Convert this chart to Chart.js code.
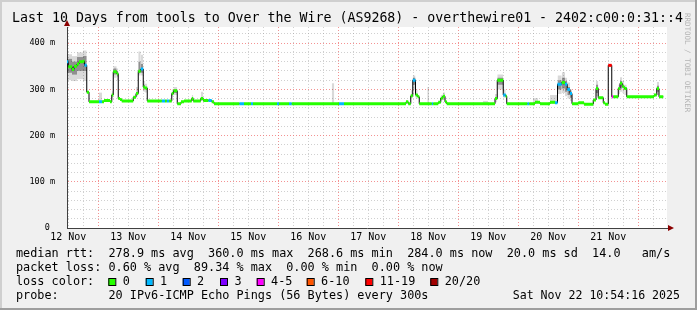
<!DOCTYPE html>
<html><head><meta charset="utf-8">
<script src="https://cdn.jsdelivr.net/npm/chart.js@4/dist/chart.umd.min.js"></script>
<style>html,body{margin:0;padding:0;background:#f0f0f0;}canvas{display:block;}</style>
</head><body>
<canvas id="c" width="697" height="310"></canvas>
<script>
// ---------------- data ----------------
const titleText = 'Last 10 Days from tools to Over the Wire (AS9268) - overthewire01 - 2402:c00:0:31::4';
const dayLabels = ['12 Nov','13 Nov','14 Nov','15 Nov','16 Nov','17 Nov','18 Nov','19 Nov','20 Nov','21 Nov'];
const yGridValues = [0,20,40,60,80,100,120,140,160,180,200,220,240,260,280,300,320,340,360,380,400,420];
const xGridHours = [0.53,6.53,12.53,18.53,24.53,30.53,36.53,42.53,48.53,54.53,60.53,66.53,72.53,78.53,84.53,90.53,96.53,102.53,108.53,114.53,120.53,126.53,132.53,138.53,144.53,150.53,156.53,162.53,168.53,174.53,180.53,186.53,192.53,198.53,204.53,210.53,216.53,222.53,228.53,234.53];

// median rtt (ms) steps: start hour, value, loss bucket index
const medianHours = [0.0,0.5,2.0,2.8,4.0,4.8,6.4,7.0,7.9,8.8,12.8,14.0,14.8,17.2,17.9,18.5,19.9,20.5,21.2,21.9,26.5,27.6,28.5,29.5,30.5,31.2,32.1,37.9,39.2,39.9,40.9,41.9,42.6,44.1,45.6,46.8,49.9,50.5,53.5,54.5,56.5,57.9,58.8,68.9,70.8,73.6,74.4,84.0,84.8,88.8,89.9,108.8,110.8,135.6,136.5,137.5,138.3,139.4,140.3,140.9,145.9,146.5,148.5,149.5,150.3,151.2,151.9,171.2,172.1,174.5,175.5,175.9,184.1,184.9,187.2,189.2,193.2,195.2,196.2,197.9,199.2,200.1,201.2,202.0,204.5,206.8,210.5,211.6,212.5,214.5,215.2,216.5,217.9,218.5,220.5,221.2,222.1,222.9,223.9,234.8,235.9,236.8];
const medianValues = [360,349,343,350,355,360,361,352,294,273,273,273,276,273,288,338,334,280,278,275,283,291,339,344,305,303,275,275,275,275,275,291,297,269,273,275,280,275,280,276,276,273,269,269,269,269,269,269,269,269,269,269,269,273,269,286,320,288,284,269,269,269,272,281,285,273,269,280,320,288,285,269,269,269,272,269,272,271,311,315,311,300,291,269,271,268,277,302,282,271,268,352,284,284,302,313,306,302,284,288,302,284];
const medianLoss = [1,0,0,0,0,0,0,1,0,0,1,0,0,0,0,0,0,0,0,0,0,0,0,1,0,0,0,1,0,1,0,0,0,0,0,0,0,0,0,0,1,0,0,1,0,1,0,1,0,1,0,1,0,0,0,0,1,0,0,0,1,0,0,0,0,0,0,0,0,1,0,0,1,0,0,0,0,1,1,0,1,1,1,0,0,0,0,0,0,0,0,6,4,0,0,0,0,0,0,0,0,0];
const endHour = 238.5;

// smoke (spread of the 20 pings) per step
const smokeStart = [0.0,2.0,4.0,6.4,12.8,17.9,18.5,19.9,27.6,28.5,29.5,30.5,31.2,41.9,42.6,49.9,53.5,105.9,137.5,138.3,139.4,144.1,149.5,150.3,166.4,171.2,172.1,174.5,186.4,193.2,196.2,197.9,199.2,200.1,201.2,211.6,220.5,221.2,222.1,222.9,235.9];
const smokeEnd   = [2.0,4.0,6.4,7.9,14.0,18.5,19.9,20.5,28.5,29.5,30.5,31.2,32.1,42.6,44.1,50.5,54.5,106.9,138.3,139.4,140.3,144.8,150.3,151.2,168.4,172.1,174.5,175.5,188.4,196.2,197.9,199.2,200.1,201.2,202.0,212.5,221.2,222.1,222.9,223.9,236.8];
const smokeLo    = [320,318,322,318,273,280,325,320,285,330,330,295,293,285,288,275,276,269,280,300,280,269,276,278,269,272,300,282,269,269,290,292,285,280,275,285,290,295,292,288,288];
const smokeHi    = [376,372,380,384,293,296,350,345,305,382,375,318,312,300,305,288,295,313,298,330,300,305,288,293,275,290,332,300,281,288,330,337,325,315,300,318,310,326,318,310,316];
const coreLo     = [336,332,340,340,null,null,332,328,null,335,336,300,null,null,292,null,null,null,null,310,null,null,null,null,null,null,310,null,null,null,300,302,295,288,282,292,null,302,null,null,295];
const coreHi     = [366,360,370,372,null,null,345,340,null,360,355,310,null,null,300,null,null,null,null,325,null,null,null,null,null,null,325,null,null,null,320,325,318,305,295,310,null,318,null,null,308];

const lossLabels = ['0','1','2','3','4-5','6-10','11-19','20/20'];
const lossColors = ['#26ff00','#00b8ff','#0059ff','#7e00ff','#ff00ff','#ff5500','#ff0000','#a10000'];

const rttStats  = ['278.9 ms avg','360.0 ms max','268.6 ms min','284.0 ms now','20.0 ms sd','14.0   am/s'];
const lossStats = ['0.60 % avg','89.34 % max','0.00 % min','0.00 % now'];
const probeText = '20 IPv6-ICMP Echo Pings (56 Bytes) every 300s';
const stampText = 'Sat Nov 22 10:54:16 2025';

// ---------------- build datasets ----------------
function rectPieces(starts, ends, vals) {
  const out = [];
  for (let i = 0; i < starts.length; i++) {
    if (vals[i] === null) continue;
    out.push({x: starts[i], y: vals[i]}, {x: ends[i], y: vals[i]}, {x: ends[i], y: null});
  }
  return out;
}
const medianEnds = medianHours.map((h, i) => i + 1 < medianHours.length ? medianHours[i + 1] : endHour);
const medianLine = medianHours.map((h, i) => ({x: h, y: medianValues[i]}));
medianLine.push({x: endHour, y: medianValues[medianValues.length - 1]});

const datasets = [
  {data: rectPieces(smokeStart, smokeEnd, smokeLo), borderWidth: 0, fill: false, order: 20},
  {data: rectPieces(smokeStart, smokeEnd, smokeHi), borderWidth: 0, fill: '-1', backgroundColor: 'rgba(0,0,0,0.15)', order: 19},
  {data: rectPieces(smokeStart, smokeEnd, coreLo), borderWidth: 0, fill: false, order: 18},
  {data: rectPieces(smokeStart, smokeEnd, coreHi), borderWidth: 0, fill: '-1', backgroundColor: 'rgba(0,0,0,0.34)', order: 17},
  {data: medianLine, stepped: true, borderColor: '#000', borderWidth: 1, fill: false, order: 5}
];
lossLabels.forEach((lab, L) => {
  const vals = medianValues.map((v, i) => medianLoss[i] === L ? v : null);
  if (vals.every(v => v === null)) return;
  datasets.push({data: rectPieces(medianHours, medianEnds, vals), borderColor: lossColors[L], borderWidth: 3,
    borderCapStyle: 'butt', fill: false, order: 0});
});
datasets.forEach(d => { d.pointRadius = 0; d.spanGaps = false; d.tension = 0; });

// ---------------- decorations ----------------
const MONO = '"DejaVu Sans Mono"';
const CHAR_W = 7.12;   // legend character pitch
function fitFont(ctx, text, base, target) {
  ctx.font = base + 'px ' + MONO;
  const w = ctx.measureText(text).width;
  ctx.font = (base * target / w).toFixed(3) + 'px ' + MONO;
}
function monoRow(ctx, text, x, y, pitch) {
  fitFont(ctx, text, 11.8, text.length * (pitch || CHAR_W));
  ctx.fillText(text, x, y);
}
const chrome = {
  id: 'chrome',
  beforeDraw(chart) {
    const {ctx, chartArea: a, width, height} = chart;
    ctx.save();
    ctx.fillStyle = '#f0f0f0'; ctx.fillRect(0, 0, width, height);
    ctx.fillStyle = '#cfcfcf'; ctx.fillRect(0, 0, width, 2); ctx.fillRect(0, 0, 2, height);
    ctx.fillStyle = '#9e9e9e'; ctx.fillRect(0, height - 2, width, 2); ctx.fillRect(width - 2, 0, 2, height);
    ctx.fillStyle = '#ffffff'; ctx.fillRect(a.left, a.top, a.right - a.left, a.bottom - a.top);
    ctx.restore();
  },
  afterDraw(chart) {
    const {ctx, chartArea: a} = chart;
    ctx.save();
    // arrows
    ctx.fillStyle = '#8b0000';
    ctx.beginPath(); ctx.moveTo(a.left - 3, a.top - 1); ctx.lineTo(a.left + 3, a.top - 1); ctx.lineTo(a.left, a.top - 7); ctx.closePath(); ctx.fill();
    ctx.beginPath(); ctx.moveTo(a.right + 1, a.bottom - 3); ctx.lineTo(a.right + 1, a.bottom + 3); ctx.lineTo(a.right + 7, a.bottom); ctx.closePath(); ctx.fill();
    // title
    ctx.fillStyle = '#000';
    ctx.textBaseline = 'middle';
    ctx.textAlign = 'left';
    fitFont(ctx, titleText, 13.75, 671.5);
    ctx.fillText(titleText, 12, 19);
    // legend rows
    monoRow(ctx, 'median rtt:  ' + rttStats.join('  '), 16, 254);
    monoRow(ctx, 'packet loss: ' + lossStats.join('  '), 16, 268);
    monoRow(ctx, 'loss color:', 16, 282);
    const boxX = [108.3, 145.7, 182.7, 220, 256.7, 306.7, 365.3, 430.3];
    lossLabels.forEach((t, i) => {
      ctx.fillStyle = lossColors[i];
      ctx.fillRect(boxX[i], 278.5, 7, 7);
      ctx.strokeStyle = '#000'; ctx.lineWidth = 1;
      ctx.strokeRect(boxX[i] + 0.5, 278.5, 7, 7);
      ctx.fillStyle = '#000';
      monoRow(ctx, t, boxX[i] + 14.4, 282);
    });
    monoRow(ctx, 'probe:       ' + probeText, 16, 296);
    ctx.textAlign = 'right';
    monoRow(ctx, stampText, 680, 296, 6.97);
    // watermark
    ctx.translate(687, 13);
    ctx.rotate(Math.PI / 2);
    ctx.textAlign = 'left';
    ctx.font = '7.5px ' + MONO;
    ctx.fillStyle = '#b4b4b4';
    ctx.fillText('RRDTOOL / TOBI OETIKER', 0, 0);
    ctx.restore();
  }
};

new Chart(document.getElementById('c'), {
  type: 'line',
  data: {datasets},
  plugins: [chrome],
  options: {
    responsive: false, animation: false, devicePixelRatio: 1,
    layout: {padding: {left: 0, right: 30, top: 27, bottom: 62}},
    plugins: {legend: {display: false}, tooltip: {enabled: false}, title: {display: false}},
    scales: {
      x: {
        type: 'linear', min: 0, max: 240,
        afterFit: s => { s.height = 20; },
        afterBuildTicks: s => { s.ticks = xGridHours.map(v => ({value: v})); },
        ticks: {autoSkip: false, maxRotation: 0, padding: 3, color: '#000', font: {family: MONO, size: 10},
          callback: (v, i) => (i % 4 === 0 ? dayLabels[i / 4] : '')},
        grid: {drawTicks: false, lineWidth: 1,
          color: c => (c.index % 4 === 2 ? 'rgba(240,110,110,0.75)' : 'rgba(150,150,150,0.45)')},
        border: {display: true, color: '#404040', width: 1, dash: [1, 2]}
      },
      y: {
        type: 'linear', min: 0, max: 435,
        afterFit: s => { s.width = 67; },
        afterBuildTicks: s => { s.ticks = yGridValues.map(v => ({value: v})); },
        ticks: {autoSkip: false, padding: 12, color: '#000', font: {family: MONO, size: 8.5},
          callback: v => (v % 100 === 0 ? (v === 0 ? '0 ' : v + ' m') : '')},
        grid: {drawTicks: false, lineWidth: 1,
          color: c => (c.tick && c.tick.value % 100 === 0 ? 'rgba(240,110,110,0.75)' : 'rgba(150,150,150,0.45)')},
        border: {display: true, color: '#404040', width: 1, dash: [1, 2]}
      }
    }
  }
});
</script>
</body></html>
